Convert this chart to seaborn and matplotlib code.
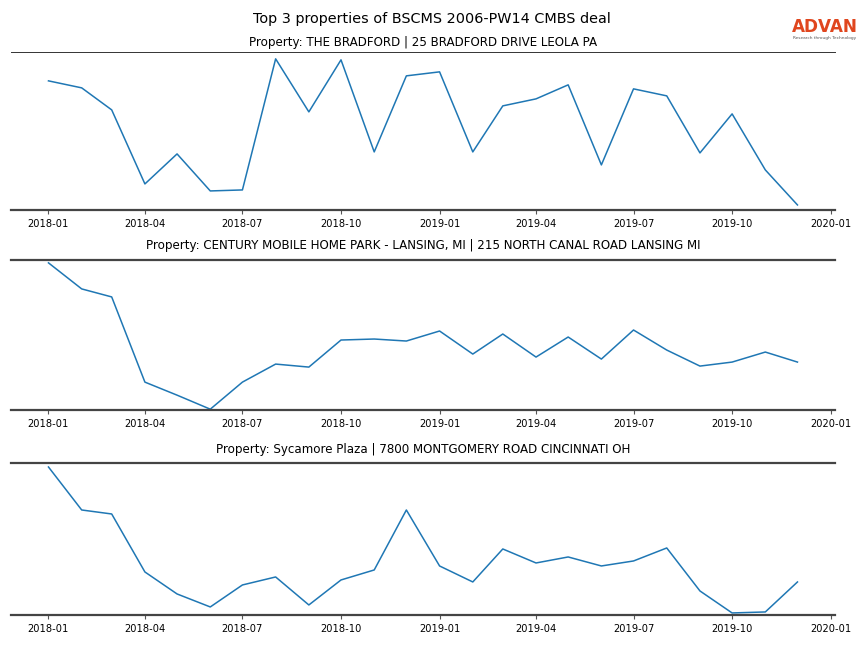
import pandas as pd
import matplotlib
matplotlib.use("Agg")
import matplotlib.pyplot as plt
import matplotlib.dates as mdates
import seaborn as sns

# monthly series, Jan 2018 - Dec 2019 (relative units)
months = pd.date_range("2018-01-01", "2019-12-01", freq="MS")

titles = [
    "Property: THE BRADFORD | 25 BRADFORD DRIVE LEOLA PA",
    "Property: CENTURY MOBILE HOME PARK - LANSING, MI | 215 NORTH CANAL ROAD LANSING MI",
    "Property: Sycamore Plaza | 7800 MONTGOMERY ROAD CINCINNATI OH",
]

bradford = [129, 122, 100, 26, 56, 19, 20, 151, 98, 150, 58, 134,
            138, 58, 104, 111, 125, 45, 121, 114, 57, 96, 40, 5]
century = [147, 121, 113, 28, 15, 1, 28, 46, 43, 70, 71, 69,
           79, 56, 76, 53, 73, 51, 80, 60, 44, 48, 58, 48]
sycamore = [148, 105, 101, 43, 21, 8, 30, 38, 10, 35, 45, 105,
            49, 33, 66, 52, 58, 49, 54, 67, 24, 2, 3, 33]

series = [bradford, century, sycamore]
ylims = [(0, 158), (0, 150), (0, 152)]
pads = [4, 7.5, 7.5]

fig = plt.figure(figsize=(8.64, 6.48), dpi=100)
boxes = [(0.0127, 0.676, 0.9537, 0.244),
         (0.0127, 0.367, 0.9537, 0.232),
         (0.0127, 0.051, 0.9537, 0.2345)]

for i, (vals, title) in enumerate(zip(series, titles)):
    ax = fig.add_axes(boxes[i])
    df = pd.DataFrame({"month": months, "value": vals})
    sns.lineplot(data=df, x="month", y="value", ax=ax, color="#1f77b4", linewidth=1.1)
    ax.set_title(title, fontsize=8.6, pad=pads[i])
    ax.set_xlim(pd.Timestamp("2017-11-27"), pd.Timestamp("2020-01-05"))
    ax.set_ylim(*ylims[i])
    ax.xaxis.set_major_locator(mdates.MonthLocator(bymonth=[1, 4, 7, 10]))
    ax.xaxis.set_major_formatter(mdates.DateFormatter("%Y-%m"))
    ax.tick_params(axis="x", labelsize=7.1, length=3, color="#555555")
    ax.set_yticks([])
    ax.set_xlabel("")
    ax.set_ylabel("")
    ax.spines["left"].set_visible(False)
    ax.spines["right"].set_visible(False)
    ax.spines["bottom"].set_linewidth(1.6)
    ax.spines["bottom"].set_color("#444444")
    if i == 0:
        ax.spines["top"].set_linewidth(0.7)
        ax.spines["top"].set_color("#333333")
    else:
        ax.spines["top"].set_linewidth(1.6)
        ax.spines["top"].set_color("#444444")

fig.suptitle("Top 3 properties of BSCMS 2006-PW14 CMBS deal", fontsize=10.35, y=0.981)

# logo
fig.text(0.9545, 0.958, "ADVAN", color="#e0461e", fontsize=12.2, fontweight="bold",
         ha="center", va="center")
fig.text(0.9545, 0.941, "Research through Technology", color="#555555", fontsize=3.1,
         ha="center", va="center")

fig.savefig("out.png", dpi=100)
